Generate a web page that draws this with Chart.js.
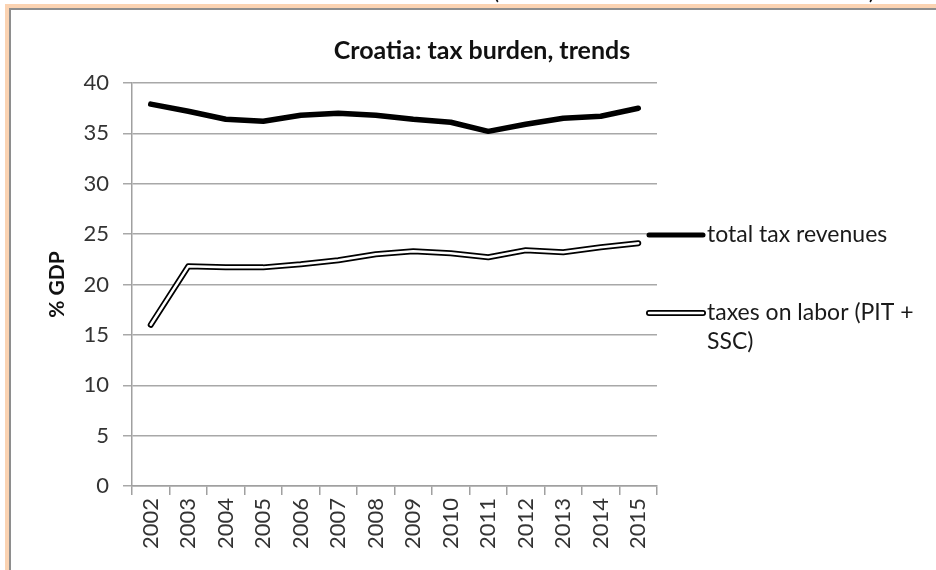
<!DOCTYPE html>
<html>
<head>
<meta charset="utf-8">
<script src="https://cdn.jsdelivr.net/npm/chart.js@4"></script>
<style>
  html, body { margin: 0; padding: 0; background: #ffffff; }
  body { width: 936px; height: 570px; position: relative; overflow: hidden; }
  #frame {
    position: absolute; left: 5px; top: 4px; width: 940px; height: 580px;
    border-left: 4px solid #fbd3b2; border-top: 4px solid #fbd3b2;
  }
  #frame-inner {
    position: absolute; left: 0; top: 0; right: 0; bottom: 0;
    border-left: 2px solid #8e8e8e; border-top: 2px solid #8e8e8e;
  }
  #wrap { position: absolute; left: 0; top: 0; width: 936px; height: 570px; }
</style>
</head>
<body>
<div id="frame"><div id="frame-inner"></div></div>
<div id="wrap"><canvas id="chart" width="936" height="570"></canvas></div>
<script>
// Croatia: tax burden as % of GDP, 2002-2015
const years = ['2002', '2003', '2004', '2005', '2006', '2007', '2008',
               '2009', '2010', '2011', '2012', '2013', '2014', '2015'];
const totalTaxRevenues = [37.9, 37.2, 36.4, 36.2, 36.8, 37.0, 36.8,
                          36.4, 36.1, 35.2, 35.9, 36.5, 36.7, 37.5];
const taxesOnLabor = [16.0, 21.8, 21.7, 21.7, 22.0, 22.4, 23.0,
                      23.3, 23.1, 22.7, 23.4, 23.2, 23.7, 24.1];
const yTicks = { min: 0, max: 40, step: 5 };
const chartTitle = 'Croatia: tax burden, trends';
const yTitle = '% GDP';
const legendItems = [
  { label: ['total tax revenues'], style: 'solid' },
  { label: ['taxes on labor (PIT +', 'SSC)'], style: 'double' }
];

const FONT = 'Lato, "Open Sans", sans-serif';

// Title, legend and the header fragment drawn on the canvas
const decorations = {
  id: 'decorations',
  afterDraw(chart) {
    const ctx = chart.ctx;
    ctx.save();
    // header fragment cut off at the top edge
    ctx.fillStyle = '#111';
    ctx.font = '24px ' + FONT;
    ctx.textAlign = 'center';
    ctx.textBaseline = 'alphabetic';
    ctx.fillText('(', 496, -1);
    ctx.fillText(')', 872, -1);

    // chart title
    ctx.font = 'bold 25px ' + FONT;
    ctx.textBaseline = 'middle';
    ctx.fillStyle = '#111';
    ctx.fillText(chartTitle, 482, 51);

    // legend
    const x0 = 649, x1 = 703, tx = 707;
    const rows = [235, 313];
    ctx.font = '23px ' + FONT;
    ctx.textAlign = 'left';
    ctx.lineCap = 'round';
    legendItems.forEach((item, i) => {
      const y = rows[i];
      if (item.style === 'solid') {
        ctx.strokeStyle = '#000';
        ctx.lineWidth = 5;
        ctx.beginPath(); ctx.moveTo(x0, y); ctx.lineTo(x1, y); ctx.stroke();
      } else {
        ctx.strokeStyle = '#000';
        ctx.lineWidth = 6;
        ctx.beginPath(); ctx.moveTo(x0, y); ctx.lineTo(x1, y); ctx.stroke();
        ctx.strokeStyle = '#fff';
        ctx.lineWidth = 2.5;
        ctx.beginPath(); ctx.moveTo(x0, y); ctx.lineTo(x1, y); ctx.stroke();
      }
      ctx.fillStyle = '#1a1a1a';
      item.label.forEach((line, j) => {
        ctx.fillText(line, tx, y + j * 29);
      });
    });
    ctx.restore();
  }
};

const lineCommon = {
  pointRadius: 0,
  pointHoverRadius: 0,
  tension: 0,
  borderCapStyle: 'round',
  borderJoinStyle: 'round',
  fill: false
};

new Chart(document.getElementById('chart'), {
  type: 'line',
  data: {
    labels: years,
    datasets: [
      Object.assign({ label: 'total tax revenues', data: totalTaxRevenues,
        borderColor: '#000', borderWidth: 5.5, order: 2 }, lineCommon),
      // labor series: black outline with a white core on top of it
      Object.assign({ label: 'taxes on labor (PIT + SSC)', data: taxesOnLabor,
        borderColor: '#000', borderWidth: 6, order: 1 }, lineCommon),
      Object.assign({ label: 'taxes on labor (PIT + SSC) core', data: taxesOnLabor,
        borderColor: '#fff', borderWidth: 2.5, order: 0 }, lineCommon)
    ]
  },
  options: {
    responsive: false,
    animation: false,
    layout: { padding: { top: 83, right: 279, bottom: 0, left: 0 } },
    plugins: {
      legend: { display: false },
      title: { display: false },
      tooltip: { enabled: false }
    },
    scales: {
      x: {
        offset: true,
        grid: {
          offset: true,
          drawOnChartArea: false,
          drawTicks: true,
          tickLength: 9,
          color: '#a0a0a0',
          lineWidth: 1.5
        },
        border: { color: '#a0a0a0', width: 1.5 },
        ticks: {
          minRotation: 90,
          maxRotation: 90,
          padding: 3,
          color: '#333',
          font: { family: FONT, size: 22 }
        },
        afterFit(scale) { scale.height = 84; }
      },
      y: {
        min: yTicks.min,
        max: yTicks.max,
        ticks: {
          stepSize: yTicks.step,
          padding: 14,
          color: '#333',
          font: { family: FONT, size: 22 }
        },
        grid: {
          color: '#a8a8a8',
          lineWidth: 1.5,
          tickLength: 9
        },
        border: { color: '#a0a0a0', width: 1.5 },
        title: {
          display: true,
          text: yTitle,
          color: '#111',
          font: { family: FONT, size: 21, weight: 'bold' },
          padding: { top: 45, bottom: 0 }
        },
        afterFit(scale) { scale.width = 132; }
      }
    }
  },
  plugins: [decorations]
});
</script>
</body>
</html>
